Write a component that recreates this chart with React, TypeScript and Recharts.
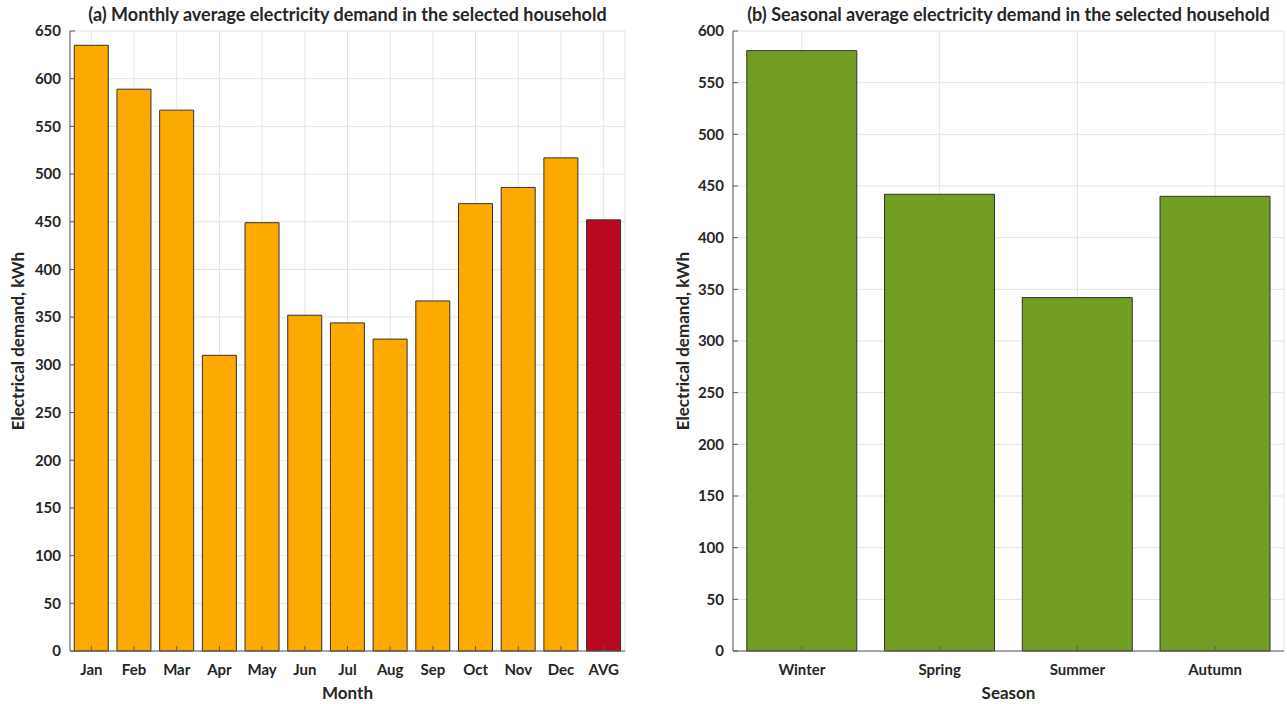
import React from 'react';
import { BarChart, Bar, Cell, XAxis, YAxis, CartesianGrid, Label } from 'recharts';

// Data
const months = ['Jan', 'Feb', 'Mar', 'Apr', 'May', 'Jun', 'Jul', 'Aug', 'Sep', 'Oct', 'Nov', 'Dec', 'AVG'];
const monthlyDemand = [635, 589, 567, 310, 449, 352, 344, 327, 367, 469, 486, 517, 452];
const monthTicks = [0, 50, 100, 150, 200, 250, 300, 350, 400, 450, 500, 550, 600, 650];

const seasons = ['Winter', 'Spring', 'Summer', 'Autumn'];
const seasonalDemand = [581, 442, 342, 440];
const seasonTicks = [0, 50, 100, 150, 200, 250, 300, 350, 400, 450, 500, 550, 600];

const FONT = 'Lato, "Open Sans", sans-serif';
const TEXT = '#262626';
const AXIS = '#5a5a5a';
const GRID = '#e3e3e3';
const ORANGE = '#fcaa00';
const RED = '#b80822';
const GREEN = '#719e22';

const monthlyData = months.map((m, i) => ({ name: m, value: monthlyDemand[i] }));
const seasonalData = seasons.map((s, i) => ({ name: s, value: seasonalDemand[i] }));

const tickStyle = { fill: TEXT, fontSize: 15, fontWeight: 700, fontFamily: FONT };
const labelStyle = { fill: TEXT, fontSize: 17, fontWeight: 700, fontFamily: FONT, textAnchor: 'middle' as const };
const noTick = () => <g />;

interface PanelProps {
  data: { name: string; value: number }[];
  ticks: number[];
  width: number;
  yWidth: number;
  right: number;
  yLabelOffset: number;
  xLabel: string;
  colorFor: (name: string) => string;
}

const Panel: React.FC<PanelProps> = ({ data, ticks, width, yWidth, right, yLabelOffset, xLabel, colorFor }) => {
  const max = ticks[ticks.length - 1];
  return (
    <BarChart
      width={width}
      height={704}
      data={data}
      margin={{ top: 31, right, bottom: 0, left: 0 }}
      barCategoryGap="10%"
    >
      <CartesianGrid stroke={GRID} strokeWidth={1} xAxisId="x" yAxisId="y" />
      <XAxis
        xAxisId="x"
        dataKey="name"
        height={53}
        stroke={AXIS}
        tickSize={-5}
        tickMargin={18}
        tick={tickStyle}
        interval={0}
      >
        <Label value={xLabel} position="insideBottom" offset={5} style={labelStyle} />
      </XAxis>
      <XAxis xAxisId="top" dataKey="name" orientation="top" height={0} stroke={AXIS} tickSize={-5} tick={noTick} interval={0} />
      <YAxis
        yAxisId="y"
        width={yWidth}
        domain={[0, max]}
        ticks={ticks}
        stroke={AXIS}
        tickSize={-5}
        tickMargin={14}
        tick={tickStyle}
        interval={0}
      >
        <Label value="Electrical demand, kWh" angle={-90} position="insideLeft" offset={yLabelOffset} style={labelStyle} />
      </YAxis>
      <YAxis yAxisId="right" orientation="right" width={0} domain={[0, max]} ticks={ticks} stroke={AXIS} tickSize={-5} tick={noTick} interval={0} />
      <Bar dataKey="value" xAxisId="x" yAxisId="y" stroke="#333" strokeWidth={1} isAnimationActive={false}>
        {data.map((d) => (
          <Cell key={d.name} fill={colorFor(d.name)} />
        ))}
      </Bar>
    </BarChart>
  );
};

const titleStyle: React.CSSProperties = {
  position: 'absolute',
  top: 3,
  fontFamily: FONT,
  fontWeight: 700,
  fontSize: 18,
  color: TEXT,
  textAlign: 'center',
  whiteSpace: 'nowrap',
};

export default function App() {
  return (
    <div style={{ position: 'absolute', left: 0, top: 0, width: 1287, height: 704, background: '#fff' }}>
      <div style={{ position: 'absolute', left: 0, top: 0 }}>
        <Panel
          data={monthlyData}
          ticks={monthTicks}
          width={640}
          yWidth={70}
          right={15}
          yLabelOffset={18}
          xLabel="Month"
          colorFor={(n) => (n === 'AVG' ? RED : ORANGE)}
        />
      </div>
      <div style={{ position: 'absolute', left: 640, top: 0 }}>
        <Panel
          data={seasonalData}
          ticks={seasonTicks}
          width={647}
          yWidth={93}
          right={3}
          yLabelOffset={43}
          xLabel="Season"
          colorFor={() => GREEN}
        />
      </div>
      <div style={{ ...titleStyle, left: 70, width: 555 }}>
        (a) Monthly average electricity demand in the selected household
      </div>
      <div style={{ ...titleStyle, left: 733, width: 551 }}>
        (b) Seasonal average electricity demand in the selected household
      </div>
    </div>
  );
}
